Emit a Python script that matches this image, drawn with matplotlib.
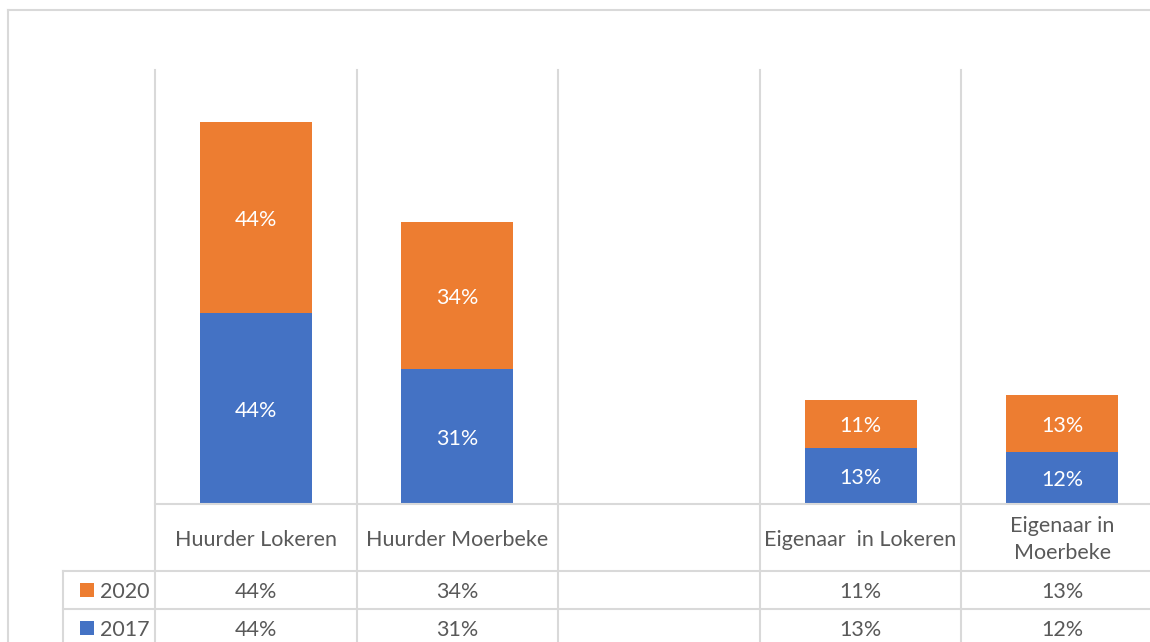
import numpy as np
import matplotlib
matplotlib.use("Agg")
import matplotlib.pyplot as plt
from matplotlib.patches import Rectangle
from matplotlib.lines import Line2D

# Data
categories = ["Huurder Lokeren", "Huurder Moerbeke", "", "Eigenaar  in Lokeren", "Eigenaar in\nMoerbeke"]
series_names = ["2020", "2017"]
v2017 = [0.44, 0.31, None, 0.13, 0.12]
v2020 = [0.44, 0.34, None, 0.11, 0.13]

blue = "#4472C4"
orange = "#ED7D31"
grid = "#D9D9D9"
txt = "#595959"
plt.rcParams["font.family"] = ["Lato", "DejaVu Sans"]
fs = 15.5

W, H = 1150, 642
fig = plt.figure(figsize=(W / 100, H / 100), dpi=100)

def fx(px):
    return px / W

def fy(py):
    return 1 - py / H

# plot area (right edge runs past the picture, like the cropped original)
left, right, top, base = 155, 1163, 70, 504
span = base - top
ax = fig.add_axes([fx(left), fy(base), fx(right) - fx(left), fy(top) - fy(base)])
ax.set_xlim(-0.5, len(categories) - 0.5)
ax.set_ylim(0, 1)
ax.axis("off")

nudge = 2.5 / span  # Lato sits a little high compared to the original font

x = np.arange(len(categories))
b17 = np.array([np.nan if v is None else v for v in v2017])
b20 = np.array([np.nan if v is None else v for v in v2020])
ax.bar(x, b17, width=0.555, color=blue, zorder=3)
ax.bar(x, b20, width=0.555, bottom=b17, color=orange, zorder=3)

for i in range(len(categories)):
    if v2017[i] is None:
        continue
    ax.text(i, v2017[i] / 2 - nudge, f"{v2017[i]*100:.0f}%", color="white", ha="center", va="center", fontsize=fs)
    ax.text(i, v2017[i] + v2020[i] / 2 - nudge, f"{v2020[i]*100:.0f}%", color="white", ha="center", va="center", fontsize=fs)

# vertical category separators running down through the data table
tr = ax.get_xaxis_transform()
for i in range(len(categories) + 1):
    ax.add_line(Line2D([i - 0.5, i - 0.5], [1, -0.4], transform=tr, color=grid, lw=1.5, clip_on=False, zorder=1))

# table rows (pixel y of header bottom / row bottoms)
row_lines = [571, 609]
leg_left = 63
for ry in [base] + row_lines:
    x0 = fx(left) if ry == base else fx(leg_left)
    fig.add_artist(Line2D([x0, 1], [fy(ry), fy(ry)], transform=fig.transFigure, color=grid, lw=1.5))
fig.add_artist(Line2D([fx(leg_left), fx(leg_left)], [fy(571), 0], transform=fig.transFigure, color=grid, lw=1.5))

# header labels
for i, c in enumerate(categories):
    ax.text(i, (base - 537) / span - nudge, c, transform=tr, ha="center", va="center",
            fontsize=fs, color=txt, linespacing=1.45)

# data rows
row_centers = [590, 628]
row_vals = [v2020, v2017]
row_cols = [orange, blue]
for name, cy, vals, col in zip(series_names, row_centers, row_vals, row_cols):
    fig.add_artist(Rectangle((fx(80), fy(cy + 7)), fx(14), 14 / H, transform=fig.transFigure,
                             facecolor=col, edgecolor="none"))
    fig.text(fx(100), fy(cy + 1.5), name, ha="left", va="center", fontsize=fs, color=txt)
    for i, v in enumerate(vals):
        if v is None:
            continue
        ax.text(i, (base - cy) / span - nudge, f"{v*100:.0f}%", transform=tr, ha="center",
                va="center", fontsize=fs, color=txt)

# chart frame
fig.add_artist(Line2D([fx(8), 1], [fy(10), fy(10)], transform=fig.transFigure, color=grid, lw=1.5))
fig.add_artist(Line2D([fx(8), fx(8)], [fy(10), 0], transform=fig.transFigure, color=grid, lw=1.5))

fig.savefig("out.png", dpi=100)
